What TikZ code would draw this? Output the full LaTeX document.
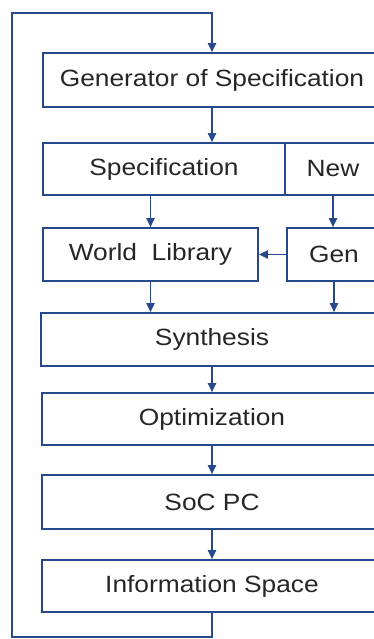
\documentclass[tikz,border=0pt]{standalone}
\usepackage{fontspec}
\setmainfont[FakeStretch=1.12]{Liberation Sans}
\usetikzlibrary{arrows.meta}
\definecolor{flowblue}{RGB}{38,72,140}
\begin{document}
\begin{tikzpicture}[x=1pt,y=-1pt,
		box/.style={draw=flowblue,line width=1.6pt,inner sep=0pt,text=black!85,font=\fontsize{23.5}{28}\selectfont},
		link/.style={draw=flowblue,line width=1.8pt,-{Triangle[length=9pt,width=8pt]}}]
				\useasboundingbox (0,0) rectangle (374,639);
				\clip (0,0) rectangle (374,639);
				\node[box,minimum width=338pt,minimum height=54pt] (genspec) at (212,80) {Generator of Specification};
				\node[box,minimum width=242pt,minimum height=52pt] (spec) at (164,169) {Specification};
				\node[box,minimum width=96pt,minimum height=52pt] (new) at (333,169) {New};
				\node[box,minimum width=215pt,minimum height=53pt] (wlib) at (150.5,254.5) {World\ \ Library};
				\node[box,minimum width=94pt,minimum height=53pt] (gen) at (334,254.5) {Gen};
				\node[box,minimum width=342pt,minimum height=53pt] (synth) at (212,339.5) {Synthesis};
				\node[box,minimum width=340pt,minimum height=52pt] (optim) at (212,419) {Optimization};
				\node[box,minimum width=340pt,minimum height=54pt] (soc) at (212,502) {SoC PC};
				\node[box,minimum width=340pt,minimum height=52pt] (info) at (212,586) {Information Space};
				\coordinate (tl) at (12,13);
				\coordinate (bl) at (12,637);
				\draw[link] (genspec) -- (spec.north -| genspec);
				\draw[link] (wlib.north |- spec.south) -- (wlib);
				\draw[link] (new) -- (new |- gen.north);
				\draw[link] (gen) -- (wlib);
				\draw[link] (wlib) -- (wlib.south |- synth.north);
				\draw[link] (gen) -- (gen.south |- synth.north);
				\draw[link] (synth) -- (optim);
				\draw[link] (optim) -- (soc);
				\draw[link] (soc) -- (info);
				\draw[link] (info.south) -- (info.south |- bl) -- (bl) -- (tl) -- (tl -| genspec) -- (genspec);
			\end{tikzpicture}
\end{document}
